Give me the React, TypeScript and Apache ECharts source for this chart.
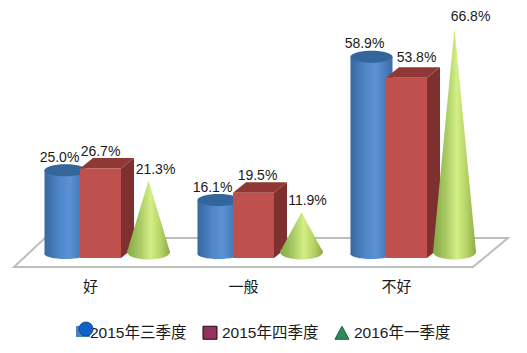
import React, { useEffect, useRef } from "react";
import * as echarts from "echarts";

const categories = ["好", "一般", "不好"];
const seriesNames = ["2015年三季度", "2015年四季度", "2016年一季度"];
const q3Values = [25.0, 16.1, 58.9];
const q4Values = [26.7, 19.5, 53.8];
const q1Values = [21.3, 11.9, 66.8];

// label nudges (px) relative to each mark's top, [dx, dy] by category
const cylLabelNudge = [[-6, -13], [-6, -13], [-7, -14]];
const boxLabelNudge = [[0, -18], [4, -18], [10, -21]];
const coneLabelNudge = [[7, -12], [6, -12], [16, -12]];

const FONT = '"Liberation Sans", "Noto Sans CJK SC", sans-serif';
const LABEL_FONT = `14px ${FONT}`;

const linear = (stops: [number, string][]) =>
  new echarts.graphic.LinearGradient(0, 0, 1, 0, stops.map(([offset, color]) => ({ offset, color })));

const label = (v: number, x: number, y: number) => ({
  type: "text",
  z2: 20,
  style: { text: v.toFixed(1) + "%", x, y, align: "center", verticalAlign: "middle", font: LABEL_FONT, fill: "#1a1a1a" },
});

const cylinderItem = (params: any, api: any) => {
  const i = api.value(0);
  const v = api.value(1);
  const p = api.coord([i, v]);
  const cx = p[0] - 25;
  const rx = 21;
  const topY = p[1] - 4;
  const base = api.coord([i, 0])[1] - 4;
  const body = linear([[0, "#37679f"], [0.35, "#4f86c8"], [0.6, "#5a92d6"], [1, "#3b6ea8"]]);
  return {
    type: "group",
    children: [
      { type: "ellipse", shape: { cx, cy: base, rx, ry: 5 }, style: { fill: body } },
      { type: "rect", shape: { x: cx - rx, y: topY, width: rx * 2, height: base - topY }, style: { fill: body } },
      { type: "ellipse", shape: { cx, cy: topY, rx, ry: 6 }, style: { fill: "#35669b" } },
      label(v, cx + cylLabelNudge[i][0], topY + cylLabelNudge[i][1]),
    ],
  };
};

const boxItem = (params: any, api: any) => {
  const i = api.value(0);
  const v = api.value(1);
  const p = api.coord([i, v]);
  const b = api.coord([i, 0]);
  const x0 = p[0] - 10.5;
  const w = 41;
  const dx = 13;
  const dy = 10.5;
  return {
    type: "group",
    children: [
      { type: "polygon", shape: { points: [[x0 + w, p[1]], [x0 + w + dx, p[1] - dy], [x0 + w + dx, b[1] - dy], [x0 + w, b[1]]] }, style: { fill: "#7d302e" } },
      { type: "polygon", shape: { points: [[x0, p[1]], [x0 + dx, p[1] - dy], [x0 + w + dx, p[1] - dy], [x0 + w, p[1]]] }, style: { fill: "#8f3836" } },
      { type: "rect", shape: { x: x0, y: p[1], width: w, height: b[1] - p[1] }, style: { fill: "#c0504d" } },
      label(v, x0 + w / 2 + boxLabelNudge[i][0], p[1] + boxLabelNudge[i][1]),
    ],
  };
};

const coneItem = (params: any, api: any) => {
  const i = api.value(0);
  const v = api.value(1);
  const p = api.coord([i, v]);
  const cx = p[0] + 58;
  const rx = 21.5;
  const base = api.coord([i, 0])[1] - 6;
  const apex = p[1] - 6;
  const fill = linear([[0, "#86a845"], [0.3, "#a8c963"], [0.55, "#d3ef86"], [0.8, "#b3d063"], [1, "#8cab47"]]);
  return {
    type: "group",
    children: [
      { type: "ellipse", shape: { cx, cy: base, rx, ry: 7.5 }, style: { fill } },
      { type: "polygon", shape: { points: [[cx, apex], [cx + rx, base], [cx - rx, base]] }, style: { fill } },
      label(v, cx + coneLabelNudge[i][0], apex + coneLabelNudge[i][1]),
    ],
  };
};

const floorItem = (params: any) => {
  const g = params.coordSys;
  const bottom = g.y + g.height;
  const frontY = bottom + 9;
  const backY = bottom - 20;
  return {
    type: "polygon",
    shape: {
      points: [
        [g.x, frontY],
        [g.x + g.width, frontY],
        [g.x + g.width + 35, backY],
        [g.x + 31, backY],
      ],
    },
    style: { fill: "#ffffff", stroke: "#bdbdbd", lineWidth: 2 },
  };
};

const pairs = (values: number[]) => values.map((v, i) => [i, v]);

export default function App() {
  const ref = useRef<HTMLDivElement>(null);
  useEffect(() => {
    const chart = echarts.init(ref.current!, undefined, { renderer: "svg" });
    chart.setOption({
      animation: false,
      backgroundColor: "#ffffff",
      textStyle: { fontFamily: FONT },
      grid: { left: 14, width: 459, top: 23.5, height: 234.5, containLabel: false },
      xAxis: {
        type: "category",
        data: categories,
        axisLine: { show: false },
        axisTick: { show: false },
        axisLabel: { fontSize: 15, color: "#1a1a1a", margin: 21, fontFamily: FONT },
      },
      yAxis: { type: "value", min: 0, max: 70, show: false },
      legend: {
        left: 66,
        top: 320,
        itemWidth: 14,
        itemHeight: 13,
        itemGap: 16,
        selectedMode: false,
        textStyle: { fontSize: 15.5, color: "#1a1a1a", fontFamily: FONT },
        data: [
          { name: seriesNames[0], icon: "rect", itemStyle: { color: "rgba(0,0,0,0)", borderWidth: 0 } },
          { name: seriesNames[1], icon: "rect", itemStyle: { color: "#96305f", borderColor: "#111111", borderWidth: 1 } },
          { name: seriesNames[2], icon: "triangle", itemStyle: { color: "#2e8b57", borderColor: "#1d5c39", borderWidth: 1 } },
        ],
      },
      graphic: [
        { type: "rect", z: 50, shape: { x: 76, y: 326, width: 14, height: 11 }, style: { fill: "#4f81bd" } },
        { type: "circle", z: 51, shape: { cx: 86, cy: 329, r: 7 }, style: { fill: "#0f62c6", stroke: "#0a3f80", lineWidth: 0.8 } },
      ],
      series: [
        { type: "custom", name: "floor", silent: true, clip: false, renderItem: floorItem, data: [[0, 0]], encode: { x: 0, y: 1 } },
        { type: "custom", name: seriesNames[0], clip: false, renderItem: cylinderItem, data: pairs(q3Values), encode: { x: 0, y: 1 }, itemStyle: { color: "#4f81bd" } },
        { type: "custom", name: seriesNames[1], clip: false, renderItem: boxItem, data: pairs(q4Values), encode: { x: 0, y: 1 }, itemStyle: { color: "#c0504d" } },
        { type: "custom", name: seriesNames[2], clip: false, renderItem: coneItem, data: pairs(q1Values), encode: { x: 0, y: 1 }, itemStyle: { color: "#9bbb59" } },
      ],
    });
    return () => chart.dispose();
  }, []);
  return <div ref={ref} style={{ position: "fixed", left: 0, top: 0, width: 527, height: 353 }} />;
}
